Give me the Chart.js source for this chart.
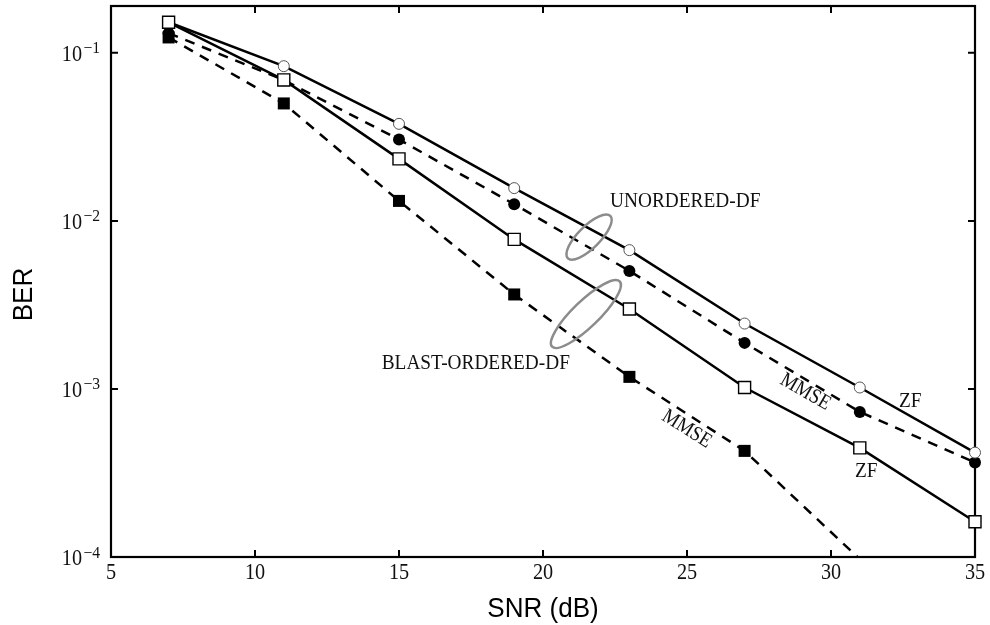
<!DOCTYPE html>
<html>
<head>
<meta charset="utf-8">
<script src="https://cdn.jsdelivr.net/npm/chart.js@4.4.1/dist/chart.umd.min.js"></script>
<style>
  html, body { margin: 0; padding: 0; background: #fff; }
  canvas { display: block; }
</style>
</head>
<body>
<canvas id="berChart" width="990" height="625"></canvas>
<script>
// SNR grid (dB)
const snr = [7, 11, 15, 19, 23, 27, 31, 35];

// BER for each detector
const berZfBlast     = [0.152, 0.069, 0.0234, 0.00776, 0.00299, 0.00102, 0.000446, 0.000162];
const berMmseBlast   = [0.1235, 0.050, 0.01315, 0.00365, 0.00118, 0.000428, null, 0.000022];
const berZfUnord     = [0.152, 0.0833, 0.0378, 0.01567, 0.0067, 0.00245, 0.00102, 0.000418];
const berMmseUnord   = [0.131, 0.0688, 0.0305, 0.01256, 0.00504, 0.00188, 0.00073, 0.000365];

const xTicks = [5, 10, 15, 20, 25, 30, 35];
const yTicks = [1e-1, 1e-2, 1e-3, 1e-4];

// curve labels, placed in data units: [snr, ber, text, angle]
const notes = [
    [22.33, 0.01207, 'UNORDERED-DF', 0],
    [14.40, 0.001312, 'BLAST-ORDERED-DF', 0],
    [32.36, 0.000776, 'ZF', 0],
    [30.83, 0.0003006, 'ZF', 0],
];
const rotatedNotes = [
    [29.11, 0.000959, 'MMSE', 30],
    [24.99, 0.000577, 'MMSE', 32],
];
// grouping loops: [snr, ber, semi-axis a, semi-axis b, angle]
const loops = [
    [21.60, 0.00801, 30, 11, -45],
    [21.49, 0.00279, 47, 13, -44],
];

const SERIF = '"Liberation Serif", "Times New Roman", serif';
const SANS = '"Liberation Sans", Arial, sans-serif';

function pts(vals) {
    return snr.map((s, i) => ({ x: s, y: vals[i] }));
}

function drawText(ctx, str, x, y, o) {
    ctx.save();
    ctx.translate(x, y);
    ctx.rotate((o.angle || 0) * Math.PI / 180);
    ctx.scale(o.squeeze || 1, 1);
    ctx.font = o.size + 'px ' + o.family;
    ctx.textAlign = o.align || 'left';
    ctx.textBaseline = o.baseline || 'alphabetic';
    ctx.fillStyle = o.color || '#111';
    ctx.fillText(str, 0, 0);
    ctx.restore();
}

// box, inward ticks, tick labels and axis titles
const framePlugin = {
    id: 'frame',
    beforeDatasetsDraw(chart) {
        const { ctx, chartArea: a, scales: { x, y } } = chart;
        ctx.save();
        ctx.strokeStyle = '#000';
        ctx.lineWidth = 2.2;
        ctx.strokeRect(a.left, a.top, a.right - a.left, a.bottom - a.top);
        ctx.lineWidth = 2;
        ctx.beginPath();
        xTicks.forEach(v => {
            const px = x.getPixelForValue(v);
            ctx.moveTo(px, a.bottom); ctx.lineTo(px, a.bottom - 7);
            ctx.moveTo(px, a.top); ctx.lineTo(px, a.top + 7);
        });
        yTicks.forEach(v => {
            const py = y.getPixelForValue(v);
            ctx.moveTo(a.left, py); ctx.lineTo(a.left + 7, py);
            ctx.moveTo(a.right, py); ctx.lineTo(a.right - 7, py);
        });
        ctx.stroke();
        ctx.restore();

        xTicks.forEach(v => {
            drawText(ctx, String(v), x.getPixelForValue(v), a.bottom + 22,
                { size: 23, family: SERIF, align: 'center', squeeze: 0.88 });
        });
        yTicks.forEach(v => {
            const py = y.getPixelForValue(v);
            const exp = Math.round(Math.log10(v));
            drawText(ctx, '10', a.left - 29, py + 8,
                { size: 23, family: SERIF, align: 'right', squeeze: 0.88 });
            drawText(ctx, '\u2212' + Math.abs(exp), a.left - 27.5, py + 0.5,
                { size: 17, family: SERIF, align: 'left', squeeze: 0.92 });
        });

        drawText(ctx, 'SNR (dB)', (a.left + a.right) / 2, 616.5,
            { size: 28, family: SANS, align: 'center', squeeze: 0.93, color: '#000' });
        drawText(ctx, 'BER', 32.3, 294.5,
            { size: 28, family: SANS, align: 'center', squeeze: 0.93, angle: -90, color: '#000' });
    }
};

// curve labels and grouping loops
const notesPlugin = {
    id: 'notes',
    afterDatasetsDraw(chart) {
        const { ctx, scales: { x, y } } = chart;
        notes.forEach(([sx, sy, str]) => {
            drawText(ctx, str, x.getPixelForValue(sx), y.getPixelForValue(sy),
                { size: 21, family: SERIF, squeeze: 0.92 });
        });
        rotatedNotes.forEach(([sx, sy, str, ang]) => {
            drawText(ctx, str, x.getPixelForValue(sx), y.getPixelForValue(sy),
                { size: 21, family: SERIF, squeeze: 0.88, align: 'center', baseline: 'middle', angle: ang });
        });
        ctx.save();
        ctx.strokeStyle = '#8c8c8c';
        ctx.lineWidth = 2.5;
        loops.forEach(([sx, sy, ra, rb, ang]) => {
            ctx.beginPath();
            ctx.ellipse(x.getPixelForValue(sx), y.getPixelForValue(sy), ra, rb,
                ang * Math.PI / 180, 0, 2 * Math.PI);
            ctx.stroke();
        });
        ctx.restore();
    }
};

const solid = { borderColor: '#000', borderWidth: 2.5, tension: 0, fill: false };
const dashed = { ...solid, borderDash: [10, 8] };

new Chart(document.getElementById('berChart'), {
    type: 'line',
    data: {
        datasets: [
            { ...solid, label: 'ZF BLAST', data: pts(berZfBlast), clip: false,
              pointStyle: 'rect', pointRadius: 8.5, pointBackgroundColor: '#fff',
              pointBorderColor: '#000', pointBorderWidth: 1.4 },
            { ...dashed, label: 'MMSE BLAST', data: pts(berMmseBlast), spanGaps: true,
              pointStyle: 'rect', pointRadius: 8.5, pointBackgroundColor: '#000',
              pointBorderColor: '#000', pointBorderWidth: 0 },
            { ...solid, label: 'ZF unordered', data: pts(berZfUnord), clip: false,
              pointStyle: 'circle', pointRadius: 5.5, pointBackgroundColor: '#fff',
              pointBorderColor: '#555', pointBorderWidth: 1 },
            { ...dashed, label: 'MMSE unordered', data: pts(berMmseUnord), clip: false,
              pointStyle: 'circle', pointRadius: 6, pointBackgroundColor: '#000',
              pointBorderColor: '#000', pointBorderWidth: 0 }
        ]
    },
    options: {
        responsive: false,
        animation: false,
        layout: { autoPadding: false, padding: { left: 111, right: 15, top: 6, bottom: 68 } },
        scales: {
            x: { type: 'linear', min: 5, max: 35, display: false },
            y: { type: 'logarithmic', min: 1e-4, max: 0.19, bounds: 'data', display: false }
        },
        plugins: { legend: { display: false }, tooltip: { enabled: false } }
    },
    plugins: [framePlugin, notesPlugin]
});
</script>
</body>
</html>
